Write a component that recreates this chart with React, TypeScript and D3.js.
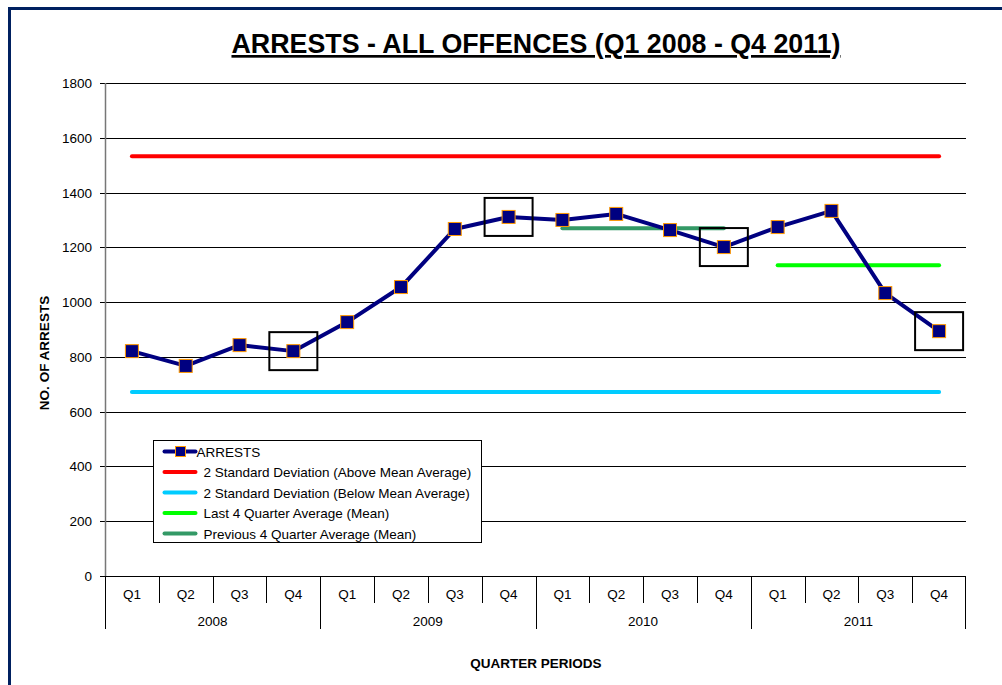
import React from "react";
import * as d3 from "d3";

const years = ["2008", "2009", "2010", "2011"];
const quarters = ["Q1", "Q2", "Q3", "Q4"];
const arrests = [821, 767, 843, 821, 927, 1055, 1267, 1311, 1300, 1322, 1263, 1201, 1274, 1333, 1033, 894];
const upperSD = 1533;
const lowerSD = 672;
const last4Avg = 1135;
const prev4Avg = 1270;
const highlighted = [3, 7, 11, 15];
const yTicks = [0, 200, 400, 600, 800, 1000, 1200, 1400, 1600, 1800];

const legendItems = [
  { label: "ARRESTS", color: "#000080", marker: true },
  { label: "2 Standard Deviation (Above Mean Average)", color: "#ff0000" },
  { label: "2 Standard Deviation (Below Mean Average)", color: "#00ccff" },
  { label: "Last 4 Quarter Average (Mean)", color: "#00ff00" },
  { label: "Previous 4 Quarter Average (Mean)", color: "#339966" },
];

const font = "'Liberation Sans', Arial, sans-serif";

export default function App() {
  const W = 1002, H = 685;
  const m = { l: 105, r: 966, t: 83, b: 576 };
  const cats = years.flatMap((y) => quarters.map((q) => `${q} ${y}`));
  const x = d3.scaleBand().domain(cats).range([m.l, m.r]);
  const cx = (i: number) => (x(cats[i]) as number) + x.bandwidth() / 2;
  const y = d3.scaleLinear().domain([0, 1800]).range([m.b, m.t]);
  const line = d3.line<number>().x((_, i) => cx(i)).y((d) => y(d));
  const bw = x.bandwidth();

  return (
    <svg width={W} height={H} style={{ position: "absolute", left: 0, top: 0, fontFamily: font }}>
      <rect x={0} y={0} width={W} height={H} fill="#fff" />
      {/* frame */}
      <path d={`M9.5,${H} V8.5 H${W}`} fill="none" stroke="#002060" strokeWidth={3} />
      <text x={536} y={53} textAnchor="middle" fontSize={26.8} fontWeight="bold" textDecoration="underline">
        ARRESTS - ALL OFFENCES (Q1 2008 - Q4 2011)
      </text>
      {/* grid + y axis */}
      {yTicks.map((t) => (
        <g key={t}>
          <line x1={m.l - 5} x2={m.r} y1={Math.round(y(t)) + 0.5} y2={Math.round(y(t)) + 0.5} stroke="#000" strokeWidth={1} />
          <text x={92} y={y(t) + 5} textAnchor="end" fontSize={13.5}>{t}</text>
        </g>
      ))}
      <line x1={m.l + 0.5} x2={m.l + 0.5} y1={m.t} y2={m.b} stroke="#777" strokeWidth={1.5} />
      <text transform={`translate(49,353) rotate(-90)`} textAnchor="middle" fontSize={13.5} fontWeight="bold">
        NO. OF ARRESTS
      </text>
      {/* x axis categories */}
      {cats.map((c, i) => (
        <g key={c}>
          <line x1={Math.round(x(c) as number) + 0.5} x2={Math.round(x(c) as number) + 0.5} y1={m.b} y2={i % 4 === 0 ? 629 : 603} stroke="#000" />
          <text x={cx(i)} y={599} textAnchor="middle" fontSize={13.5}>{quarters[i % 4]}</text>
        </g>
      ))}
      <line x1={m.r - 0.5} x2={m.r - 0.5} y1={m.b} y2={629} stroke="#000" />
      {years.map((yr, j) => (
        <text key={yr} x={(x(cats[j * 4]) as number) + bw * 2} y={626} textAnchor="middle" fontSize={13.5}>{yr}</text>
      ))}
      <text x={536} y={668} textAnchor="middle" fontSize={13.5} fontWeight="bold">QUARTER PERIODS</text>
      {/* reference lines */}
      <line x1={cx(0)} x2={cx(15)} y1={y(upperSD)} y2={y(upperSD)} stroke="#ff0000" strokeWidth={4} strokeLinecap="round" />
      <line x1={cx(0)} x2={cx(15)} y1={y(lowerSD)} y2={y(lowerSD)} stroke="#00ccff" strokeWidth={4} strokeLinecap="round" />
      <line x1={cx(8)} x2={cx(11)} y1={y(prev4Avg)} y2={y(prev4Avg)} stroke="#339966" strokeWidth={4} strokeLinecap="round" />
      <line x1={cx(12)} x2={cx(15)} y1={y(last4Avg)} y2={y(last4Avg)} stroke="#00ff00" strokeWidth={4} strokeLinecap="round" />
      {/* arrests series */}
      <path d={line(arrests) || ""} fill="none" stroke="#000080" strokeWidth={4} strokeLinejoin="round" />
      {arrests.map((v, i) => (
        <rect key={i} x={cx(i) - 6.5} y={y(v) - 6.5} width={13} height={13} fill="#000080" stroke="#ff9900" strokeWidth={1} />
      ))}
      {highlighted.map((i) => (
        <rect key={i} x={cx(i) - 24} y={y(arrests[i]) - 19} width={48} height={38} fill="none" stroke="#000" strokeWidth={2} />
      ))}
      {/* legend */}
      <g transform="translate(153.5,440.5)">
        <rect x={0} y={0} width={328} height={102} fill="#fff" stroke="#000" />
        {legendItems.map((it, i) => {
          const ly = 11 + i * 20.5;
          return (
            <g key={it.label}>
              <line x1={11} x2={42} y1={ly} y2={ly} stroke={it.color} strokeWidth={4} strokeLinecap="round" />
              {it.marker && <rect x={22} y={ly - 5} width={10} height={10} fill="#000080" stroke="#ff9900" />}
              <text x={it.marker ? 43 : 50} y={ly + 5} fontSize={13.5}>{it.label}</text>
            </g>
          );
        })}
      </g>
    </svg>
  );
}
